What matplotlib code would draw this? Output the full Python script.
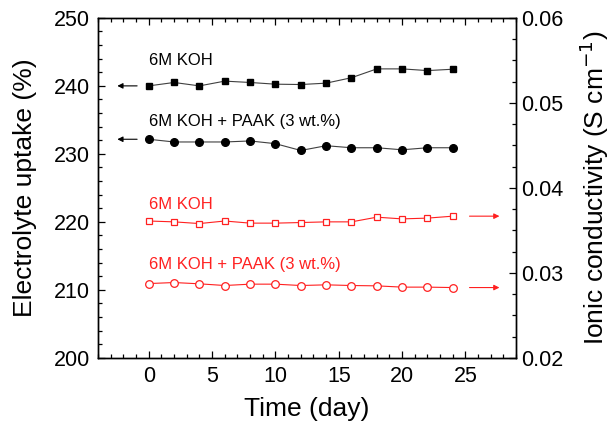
import matplotlib
matplotlib.use("Agg")
import matplotlib.pyplot as plt
from matplotlib.ticker import MultipleLocator

plt.rcParams['font.family'] = ['Liberation Sans', 'DejaVu Sans']

days = [0, 2, 4, 6, 8, 10, 12, 14, 16, 18, 20, 22, 24]
uptake_koh = [240.0, 240.5, 240.0, 240.7, 240.5, 240.25, 240.2, 240.4, 241.2, 242.5, 242.5, 242.25, 242.45]
uptake_paak = [232.15, 231.75, 231.75, 231.75, 231.9, 231.5, 230.5, 231.2, 230.9, 230.9, 230.6, 230.9, 230.9]
cond_koh = [0.0361, 0.0360, 0.0358, 0.0361, 0.03585, 0.03585, 0.03592, 0.0360, 0.0360, 0.03655, 0.03635, 0.03644, 0.03667]
cond_paak = [0.02874, 0.02886, 0.02871, 0.02851, 0.02867, 0.02867, 0.02851, 0.02859, 0.02851, 0.02847, 0.02832, 0.02832, 0.02827]

fig = plt.figure(figsize=(6.13, 4.26), dpi=100)
ax = fig.add_axes([0.160, 0.160, 0.682, 0.798])
ax2 = ax.twinx()

lc = '#404040'
ax.plot(days, uptake_koh, '-', color=lc, lw=0.8, marker='s', ms=4.6, mfc='black', mec='black', zorder=3)
ax.plot(days, uptake_paak, '-', color=lc, lw=0.8, marker='o', ms=5.5, mfc='black', mec='black', zorder=3)
red = '#ff2020'
ax2.plot(days, cond_koh, '-', color=red, lw=0.8, marker='s', ms=4.8, mfc='white', mec=red, mew=0.9, zorder=3)
ax2.plot(days, cond_paak, '-', color=red, lw=0.8, marker='o', ms=5.5, mfc='white', mec=red, mew=0.9, zorder=3)

# arrows
arw = dict(arrowstyle='-|>', color='black', lw=0.8, mutation_scale=8)
ax.annotate('', xy=(-2.7, uptake_koh[0]), xytext=(-0.7, uptake_koh[0]), arrowprops=arw)
ax.annotate('', xy=(-2.7, uptake_paak[0]), xytext=(-0.7, uptake_paak[0]), arrowprops=arw)
arr = dict(arrowstyle='-|>', color=red, lw=0.8, mutation_scale=8)
ax2.annotate('', xy=(27.9, cond_koh[-1]), xytext=(25.1, cond_koh[-1]), arrowprops=arr)
ax2.annotate('', xy=(27.9, cond_paak[-1]), xytext=(25.1, cond_paak[-1]), arrowprops=arr)

# labels
fs = 12
ax.text(0, 243.7, '6M KOH', fontsize=fs, color='black', va='center', ha='left')
ax.text(0, 234.7, '6M KOH + PAAK (3 wt.%)', fontsize=fs, color='black', va='center', ha='left')
ax.text(0, 222.6, '6M KOH', fontsize=fs, color=red, va='center', ha='left')
ax.text(0, 213.7, '6M KOH + PAAK (3 wt.%)', fontsize=fs, color=red, va='center', ha='left')

ax.set_xlim(-4, 29)
ax.set_ylim(200, 250)
ax2.set_ylim(0.02, 0.06)
ax.xaxis.set_major_locator(MultipleLocator(5))
ax.xaxis.set_minor_locator(MultipleLocator(1))
ax.yaxis.set_major_locator(MultipleLocator(10))
ax.yaxis.set_minor_locator(MultipleLocator(2))
ax2.yaxis.set_minor_locator(MultipleLocator(0.0025))
ax2.set_yticks([0.02, 0.03, 0.04, 0.05, 0.06])
ax2.set_yticklabels(['0.02', '0.03', '0.04', '0.05', '0.06'])

ax.tick_params(which='both', direction='in', top=True, right=False, labelsize=15.5, width=0.9)
ax.tick_params(which='major', length=5)
ax.tick_params(which='minor', length=3)
ax.tick_params(axis='x', pad=6)
ax.tick_params(axis='y', pad=6)
ax2.tick_params(which='both', direction='in', labelsize=15.5, width=0.9)
ax2.tick_params(which='major', length=5)
ax2.tick_params(which='minor', length=3)

for a in (ax, ax2):
    for s in a.spines.values():
        s.set_linewidth(1.0)

ax.set_xlabel('Time (day)', fontsize=19, labelpad=7)
ax.set_ylabel('Electrolyte uptake (%)', fontsize=19, labelpad=12)
ax2.set_ylabel('Ionic conductivity (S cm$^{-1}$)', fontsize=19, labelpad=10)

fig.savefig('out.png', dpi=100)
